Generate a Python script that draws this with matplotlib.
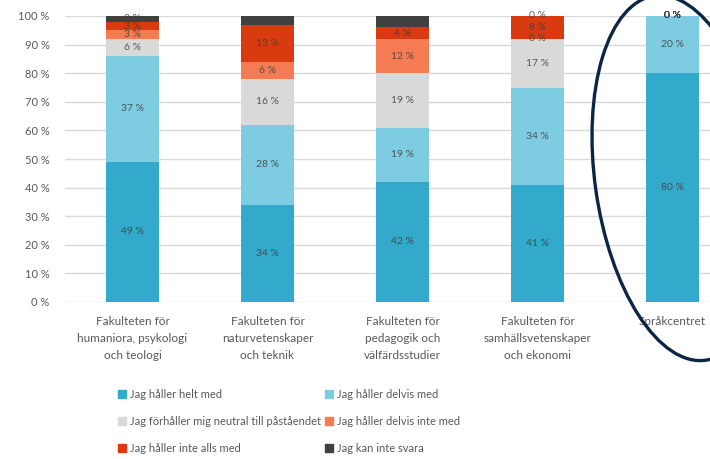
import matplotlib
matplotlib.use("Agg")
import matplotlib.pyplot as plt
from matplotlib.patches import Ellipse, Patch
from matplotlib.transforms import IdentityTransform
import numpy as np

plt.rcParams['font.family'] = ['Lato', 'DejaVu Sans']

categories = [
    "Fakulteten för\nhumaniora, psykologi\noch teologi",
    "Fakulteten för\nnaturvetenskaper\noch teknik",
    "Fakulteten för\npedagogik och\nvälfärdsstudier",
    "Fakulteten för\nsamhällsvetenskaper\noch ekonomi",
    "Språkcentret",
]
series_names = [
    "Jag håller helt med",
    "Jag håller delvis med",
    "Jag förhåller mig neutral till påståendet",
    "Jag håller delvis inte med",
    "Jag håller inte alls med",
    "Jag kan inte svara",
]
helt_med = [49, 34, 42, 41, 80]
delvis_med = [37, 28, 19, 34, 20]
neutral = [6, 16, 19, 17, 0]
delvis_inte = [3, 6, 12, 0, 0]
inte_alls = [3, 13, 4, 8, 0]
kan_inte = [2, 3, 4, 0, 0]
series = [helt_med, delvis_med, neutral, delvis_inte, inte_alls, kan_inte]
colors = ["#33A9CB", "#7DCCE2", "#D9D9D9", "#F47B52", "#DA3A10", "#404040"]
yticks = [0, 10, 20, 30, 40, 50, 60, 70, 80, 90, 100]

W, H = 710, 459
fig = plt.figure(figsize=(W / 100, H / 100), dpi=100)
ax = fig.add_axes([65 / W, (H - 302) / H, 675 / W, 286 / H])

x = np.arange(len(categories))
bottom = np.zeros(len(categories))
for name, vals, c in zip(series_names, series, colors):
    vals = np.array(vals, dtype=float)
    ax.bar(x, vals, 0.395, bottom=bottom, color=c, label=name, zorder=3)
    for xi, v, b in zip(x, vals, bottom):
        ax.text(xi, b + v / 2, f"{int(v)} %", ha="center", va="center",
                fontsize=7.5, color="#404040", alpha=0.85, zorder=4)
    bottom += vals

ax.set_xlim(-0.5, 4.5)
ax.set_ylim(0, 100)
ax.set_yticks(yticks)
ax.set_yticklabels([f"{t} %" for t in yticks])
ax.set_xticks(x)
ax.set_xticklabels(categories, linespacing=1.7)
ax.tick_params(axis="y", length=0, pad=11, labelsize=8, labelcolor="#595959")
ax.tick_params(axis="x", length=0, pad=10, labelsize=8.5, labelcolor="#595959")
ax.grid(axis="y", color="#D9D9D9", linewidth=1, zorder=0)
for s in ax.spines.values():
    s.set_visible(False)

handles = [Patch(color=c) for c in colors]
order = [0, 2, 4, 1, 3, 5]
fig.legend([handles[i] for i in order], [series_names[i] for i in order],
           ncol=2, loc="upper left", bbox_to_anchor=(118 / W, 1 - 389 / H),
           frameon=False, fontsize=8, labelcolor="#595959",
           handlelength=0.75, handleheight=0.75, handletextpad=0.3,
           labelspacing=1.45, columnspacing=0.4, borderaxespad=0, borderpad=0)

ell = Ellipse((680, H - 178), 2 * 85, 2 * 184, angle=8,
              transform=IdentityTransform(), fill=False,
              edgecolor="#0B2545", linewidth=2.4, zorder=10)
fig.add_artist(ell)

fig.savefig("out.png", dpi=100)
